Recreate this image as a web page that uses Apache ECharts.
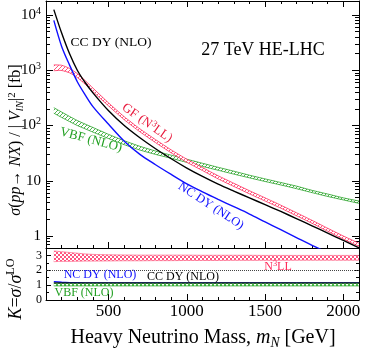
<!DOCTYPE html>
<html>
<head>
<meta charset="utf-8">
<script src="https://cdn.jsdelivr.net/npm/echarts@6/dist/echarts.min.js"></script>
<style>
  html, body { margin: 0; padding: 0; background: #fff; }
  #chart { width: 365px; height: 354px; }
</style>
</head>
<body>
<div id="chart"></div>
<script>
// heavy neutrino mass points [GeV]
const mass = [150, 200, 250, 300, 350, 400, 500, 600, 700, 800, 900, 1000,
  1100, 1200, 1300, 1400, 1500, 1600, 1700, 1800, 1900, 2000, 2100]

// sigma / |V|^2 [fb]
const ccDY = [12500, 4700, 2000, 1000, 600, 390, 185, 100, 60, 38, 25, 17,
  12, 8.7, 6.5, 4.9, 3.7, 2.78, 2.07, 1.53, 1.13, 0.83, 0.61]
const ncDY = [8000, 2700, 1250, 620, 360, 220, 105, 52, 30, 19.5, 13, 8.8,
  6.3, 4.6, 3.4, 2.5, 1.8, 1.3, 0.94, 0.68, 0.5, 0.37, 0.27]
const gfLo = [980, 990, 900, 740, 560, 410, 226, 127, 77, 49, 32, 21.6,
  15.3, 10.8, 7.9, 5.8, 4.3, 3.2, 2.33, 1.7, 1.22, 0.88, 0.65]
const gfHi = [1250, 1230, 1080, 870, 650, 475, 256, 144, 87, 55.5, 36.2, 24.5,
  17.3, 12.3, 9.0, 6.6, 4.9, 3.62, 2.64, 1.92, 1.38, 1.0, 0.74]
const vbfLo = [167, 140, 118, 100, 87, 76, 58, 45, 36, 30, 25.5, 21.5,
  18.2, 15.5, 13.2, 11.3, 9.7, 8.4, 7.2, 6.1, 5.2, 4.5, 3.9]
const vbfHi = [210, 175, 146, 123, 106, 92, 69, 53, 42, 34.5, 29, 24.5,
  20.7, 17.5, 14.9, 12.6, 10.8, 9.3, 8.0, 6.7, 5.75, 4.9, 4.3]

// K factors
const kGfLo = [2.58, 2.6, 2.6, 2.61, 2.62, 2.62, 2.63, 2.64, 2.64, 2.65, 2.65, 2.66,
  2.66, 2.66, 2.67, 2.67, 2.67, 2.67, 2.68, 2.68, 2.68, 2.68, 2.68]
const kGfHi = [3.3, 3.25, 3.2, 3.15, 3.1, 3.07, 3.04, 3.03, 3.02, 3.02, 3.02, 3.02,
  3.01, 3.01, 3.01, 3.01, 3.0, 3.0, 3.0, 3.0, 3.0, 3.0, 3.0]
const kCC = [1.15, 1.15, 1.15, 1.15, 1.15, 1.15, 1.15, 1.15, 1.15, 1.15, 1.15, 1.15,
  1.15, 1.15, 1.15, 1.15, 1.15, 1.15, 1.15, 1.15, 1.15, 1.15, 1.15]
const kNC = [1.24, 1.19, 1.17, 1.16, 1.15, 1.15, 1.15, 1.15, 1.15, 1.15, 1.15, 1.15,
  1.15, 1.15, 1.15, 1.15, 1.15, 1.15, 1.15, 1.15, 1.15, 1.15, 1.15]
const kVbfLo = [0.95, 0.95, 0.95, 0.95, 0.95, 0.95, 0.95, 0.95, 0.95, 0.95, 0.95, 0.95,
  0.95, 0.95, 0.95, 0.95, 0.95, 0.95, 0.95, 0.95, 0.95, 0.95, 0.95]
const kVbfHi = [1.13, 1.13, 1.13, 1.13, 1.13, 1.13, 1.13, 1.13, 1.13, 1.13, 1.13, 1.13,
  1.13, 1.13, 1.13, 1.13, 1.13, 1.13, 1.13, 1.13, 1.13, 1.13, 1.13]

// tick labels
const xLabels = [500, 1000, 1500, 2000]
const yLabels = [1, 10, 100, 1000, 10000]
const kLabels = [0, 1, 2, 3]

const font = "'Liberation Serif', 'DejaVu Serif', serif"
const black = '#000'
const blue = '#1010ff'
const red = '#ff2a5a'
const redText = '#e8193c'
const green = '#22a022'

const pairs = ys => mass.map((m, i) => [m, ys[i]])

function pattern(size, draw) {
  const c = document.createElement('canvas')
  c.width = c.height = size
  const g = c.getContext('2d')
  draw(g, size)
  return {image: c, repeat: 'repeat'}
}

function hatch(col) {
  return pattern(4, (g, s) => {
    g.fillStyle = '#fff'
    g.fillRect(0, 0, s, s)
    g.strokeStyle = col
    g.lineWidth = 0.8
    g.beginPath()
    g.moveTo(0, s); g.lineTo(s, 0)
    g.moveTo(-1, 1); g.lineTo(1, -1)
    g.moveTo(s - 1, s + 1); g.lineTo(s + 1, s - 1)
    g.stroke()
  })
}

function checker(col) {
  return pattern(4, (g, s) => {
    g.fillStyle = '#fff'
    g.fillRect(0, 0, s, s)
    g.fillStyle = col
    g.fillRect(0, 0, 2, 2)
    g.fillRect(2, 2, 2, 2)
  })
}

// tick positions
const xMinor = []
for (let v = 100; v <= 2100; v += 100) if (v % 500 !== 0) xMinor.push(v)
const logMin = 0.607, logMax = 17900
const yMinor = []
for (const d of [0.1, 1, 10, 100, 1000, 10000]) {
  for (let k = 2; k <= 9; k++) {
    const v = k * d
    if (v > logMin && v < logMax) yMinor.push(+v.toPrecision(3))
  }
}
const kMinor = [0.5, 1.5, 2.5, 3.5]

function xAx(grid, pos, ticks, len, labels, line) {
  return {
    type: 'value', gridIndex: grid, position: pos, min: 100, max: 2100,
    axisLine: {show: line, onZero: false, lineStyle: {color: black, width: 1}},
    axisTick: {show: true, inside: true, length: len, customValues: ticks, lineStyle: {color: black, width: 1}},
    axisLabel: labels ? {show: true, customValues: xLabels, formatter: v => String(v),
      fontFamily: font, fontSize: 17, color: black, margin: 3} : {show: false},
    splitLine: {show: false}
  }
}

function logAx(pos, ticks, len, labels, line) {
  return {
    type: 'log', logBase: 10, gridIndex: 0, position: pos, min: logMin, max: logMax,
    axisLine: {show: line, onZero: false, lineStyle: {color: black, width: 1}},
    axisTick: {show: true, inside: true, length: len, customValues: ticks, lineStyle: {color: black, width: 1}},
    axisLabel: labels ? {
      show: true, customValues: yLabels, margin: 5, color: black, fontFamily: font,
      formatter: v => {
        const e = Math.round(Math.log10(v))
        if (e === 0) return '{n|1}'
        if (e === 1) return '{n|10}'
        return '{n|10}{sup|' + e + '}'
      },
      rich: {
        n: {fontFamily: font, fontSize: 15, lineHeight: 18, color: black},
        sup: {fontFamily: font, fontSize: 10, lineHeight: 10, verticalAlign: 'top', color: black}
      }
    } : {show: false},
    splitLine: {show: false}
  }
}

function kAx(pos, ticks, len, labels, line) {
  return {
    type: 'value', gridIndex: 1, position: pos, min: 0, max: 3.5,
    axisLine: {show: line, onZero: false, lineStyle: {color: black, width: 1}},
    axisTick: {show: true, inside: true, length: len, customValues: ticks, lineStyle: {color: black, width: 1}},
    axisLabel: labels ? {show: true, customValues: kLabels, fontFamily: font, fontSize: 12, color: black, margin: 4} : {show: false},
    splitLine: {show: false}
  }
}

// shaded band between two curves, drawn once through the axis scales
function band(xi, yi, lo, hi, col, fill, z) {
  return {
    type: 'custom', xAxisIndex: xi, yAxisIndex: yi, z: z, clip: true,
    data: mass.map((m, i) => [m, lo[i], hi[i]]),
    encode: {x: 0, y: [1, 2]},
    renderItem: (params, api) => {
      if (params.dataIndex !== 0) return null
      const top = mass.map((m, i) => api.coord([m, hi[i]]))
      const bot = mass.map((m, i) => api.coord([m, lo[i]]))
      return {
        type: 'group',
        children: [
          {type: 'polygon', shape: {points: top.concat(bot.slice().reverse())}, style: {fill: fill, stroke: null}},
          {type: 'polyline', shape: {points: top, smooth: 0.2}, style: {stroke: col, lineWidth: 0.8, fill: null}},
          {type: 'polyline', shape: {points: bot, smooth: 0.2}, style: {stroke: col, lineWidth: 0.8, fill: null}}
        ]
      }
    }
  }
}

function titleRich(size) {
  return {
    n: {fontFamily: font, fontSize: size, lineHeight: size * 1.2},
    i: {fontFamily: font, fontSize: size, lineHeight: size * 1.2, fontStyle: 'italic'},
    sub: {fontFamily: font, fontSize: size * 0.68, lineHeight: size * 0.68, verticalAlign: 'bottom', fontStyle: 'italic'},
    sup: {fontFamily: font, fontSize: size * 0.68, lineHeight: size * 0.68, verticalAlign: 'top'}
  }
}

function label(text, x, y, size, col, rot) {
  return {
    type: 'text', x: x, y: y, rotation: rot || 0, z: 100,
    style: {
      text: text, fill: col, font: size + 'px ' + font,
      align: 'center', verticalAlign: 'middle', textAlign: 'center', textVerticalAlign: 'middle',
      rich: {
        sup: {fontFamily: font, fontSize: size * 0.7, lineHeight: size * 0.6, verticalAlign: 'top', fill: col},
        n: {fontFamily: font, fontSize: size, lineHeight: size * 1.2, fill: col}
      }
    }
  }
}

const chart = echarts.init(document.getElementById('chart'), null, {renderer: 'canvas'})

chart.setOption({
  animation: false,
  backgroundColor: '#fff',
  grid: [
    {left: 46, right: 6, top: 1, height: 247},
    {left: 46, right: 6, top: 248, height: 52}
  ],
  xAxis: [
    xAx(0, 'bottom', xLabels, 6, false, true),
    xAx(0, 'bottom', xMinor, 3, false, false),
    xAx(0, 'top', xLabels, 6, false, true),
    xAx(0, 'top', xMinor, 3, false, false),
    xAx(1, 'bottom', xLabels, 6, true, true),
    xAx(1, 'bottom', xMinor, 3, false, false)
  ],
  yAxis: [
    logAx('left', yLabels, 7, true, true),
    logAx('left', yMinor, 4, false, false),
    logAx('right', yLabels, 7, false, true),
    logAx('right', yMinor, 4, false, false),
    kAx('left', kLabels, 5, true, true),
    kAx('left', kMinor, 3, false, false),
    kAx('right', kLabels, 5, false, true),
    kAx('right', kMinor, 3, false, false)
  ],
  series: [
    band(0, 0, vbfLo, vbfHi, green, hatch(green), 3),
    band(0, 0, gfLo, gfHi, red, hatch(red), 4),
    {type: 'line', xAxisIndex: 0, yAxisIndex: 0, data: pairs(ncDY), symbol: 'none', smooth: 0.3,
      lineStyle: {color: blue, width: 1.4}, z: 5},
    {type: 'line', xAxisIndex: 0, yAxisIndex: 0, data: pairs(ccDY), symbol: 'none', smooth: 0.3,
      lineStyle: {color: black, width: 1.4}, z: 6},

    band(4, 4, kGfLo, kGfHi, '#ff7090', checker('#ff5580'), 3),
    {type: 'line', xAxisIndex: 4, yAxisIndex: 4, data: pairs(kNC), symbol: 'none',
      lineStyle: {color: blue, width: 1.4}, z: 4,
      markLine: {silent: true, symbol: 'none', label: {show: false},
        lineStyle: {color: '#444', width: 1, type: 'dotted'}, data: [{yAxis: 2}]}},
    band(4, 4, kVbfLo, kVbfHi, green, checker('#4cc24c'), 5),
    {type: 'line', xAxisIndex: 4, yAxisIndex: 4, data: pairs(kCC), symbol: 'none',
      lineStyle: {color: black, width: 1}, z: 6}
  ],
  graphic: [
    label('CC DY (NLO)', 111, 42, 13.5, black),
    label('27 TeV HE-LHC', 263, 50, 18, black),
    label('{n|GF (N}{sup|3}{n|LL)}', 147, 123, 13, redText, -0.61),
    label('VBF (NLO)', 91, 140, 13, green, -0.26),
    label('NC DY (NLO)', 211, 206, 12.5, blue, -0.58),
    label('{n|N}{sup|3}{n|LL}', 278, 267, 12, red),
    label('NC DY (NLO)', 100, 275, 12, blue),
    label('CC DY (NLO)', 183, 277, 12, black),
    label('VBF (NLO)', 84, 293, 12, green),
    {
      type: 'text', x: 16, y: 140, rotation: Math.PI / 2, z: 100,
      style: {
        text: '{i|σ}{n|(}{i|pp}{n|→ }{i|NX}{n|) / | }{i|V}{sub|lN}{n||}{sup|2}{n| [fb]}',
        fill: black, font: '16px ' + font, rich: titleRich(16),
        align: 'center', verticalAlign: 'middle', textAlign: 'center', textVerticalAlign: 'middle'
      }
    },
    {
      type: 'text', x: 16, y: 289, rotation: Math.PI / 2, z: 100,
      style: {
        text: '{i|K}{n|=}{i|σ}{n|/}{i|σ}{sup|LO}',
        fill: black, font: '18px ' + font, rich: titleRich(18),
        align: 'center', verticalAlign: 'middle', textAlign: 'center', textVerticalAlign: 'middle'
      }
    },
    {
      type: 'text', x: 203, y: 338, z: 100,
      style: {
        text: '{n|Heavy Neutrino Mass, }{i|m}{sub|N}{n| [GeV]}',
        fill: black, font: '20px ' + font, rich: titleRich(20),
        align: 'center', verticalAlign: 'middle', textAlign: 'center', textVerticalAlign: 'middle'
      }
    }
  ]
})
</script>
</body>
</html>
